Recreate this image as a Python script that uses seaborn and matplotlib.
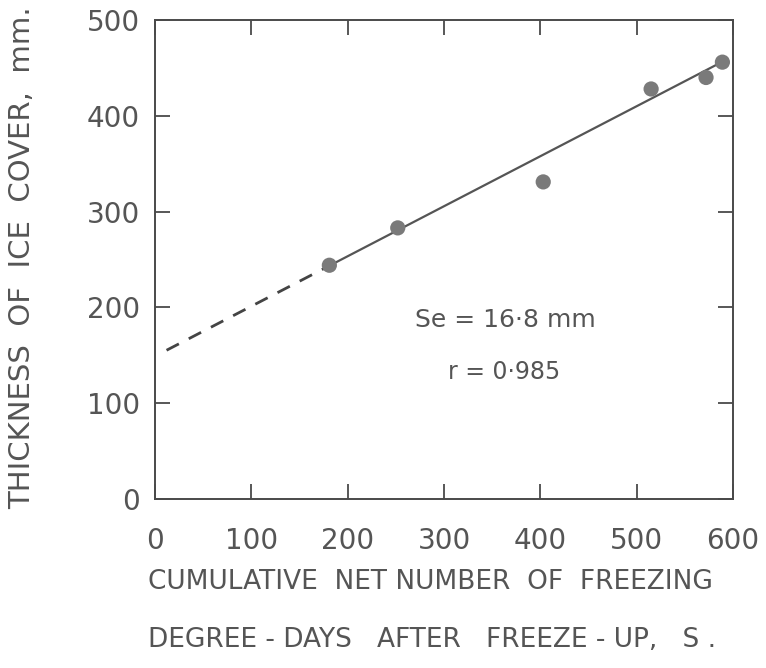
import numpy as np
import pandas as pd
import matplotlib
matplotlib.use("Agg")
import matplotlib.pyplot as plt
import seaborn as sns

degree_days = [181, 252, 403, 515, 572, 589]
thickness = [244, 283, 331, 428, 440, 456]

# regression line: fitted part and extrapolated part
fit_intercept = 149
fit_slope = 0.522
solid_x = [181, 585]
dashed_x = [12, 175]

x_ticks = [0, 100, 200, 300, 400, 500, 600]
y_ticks = [0, 100, 200, 300, 400, 500]

ink = "#4a4a4a"
txt = "#555555"

sns.set_style("ticks")
plt.rcParams["font.family"] = ["DejaVu Sans"]

fig = plt.figure(figsize=(7.66, 6.68), dpi=100)
ax = fig.add_axes([155 / 766, 169 / 668, 578 / 766, 479 / 668])

df = pd.DataFrame({"x": degree_days, "y": thickness})
sns.scatterplot(data=df, x="x", y="y", ax=ax, s=120, color="#7a7a7a",
                edgecolor="none", zorder=3)

solid = pd.DataFrame({"x": solid_x,
                      "y": [fit_intercept + fit_slope * v for v in solid_x]})
dashed = pd.DataFrame({"x": dashed_x,
                       "y": [fit_intercept + fit_slope * v for v in dashed_x]})
sns.lineplot(data=solid, x="x", y="y", ax=ax, color="#555555", lw=1.6)
sns.lineplot(data=dashed, x="x", y="y", ax=ax, color="#444444", lw=2.0,
             linestyle=(0, (5, 4)))

ax.set_xlim(0, 600)
ax.set_ylim(0, 500)
ax.set_xticks(x_ticks)
ax.set_yticks(y_ticks)
ax.tick_params(direction="in", length=11, width=1.3, colors=ink,
               top=True, right=True, labelsize=20, labelcolor=txt)
ax.tick_params(axis="x", pad=20)
ax.tick_params(axis="y", pad=11)
for sp in ax.spines.values():
    sp.set_visible(True)
    sp.set_linewidth(1.4)
    sp.set_color(ink)
ax.set_xlabel("")
ax.set_ylabel("")

ax.text(364, 187, "Se = 16·8 mm", ha="center", va="center",
        fontsize=18, color=txt)
ax.text(362, 133, "r = 0·985", ha="center", va="center",
        fontsize=17, color=txt)

fig.text(148 / 766, 1 - 582 / 668, "CUMULATIVE  NET NUMBER  OF  FREEZING",
         ha="left", va="center", fontsize=19, color=txt)
fig.text(148 / 766, 1 - 640 / 668, "DEGREE - DAYS   AFTER   FREEZE - UP,   S .",
         ha="left", va="center", fontsize=19, color=txt)
fig.text(22 / 766, 1 - 258 / 668, "THICKNESS  OF  ICE  COVER,  mm.",
         ha="center", va="center", rotation=90, fontsize=21, color=txt)

fig.savefig("out.png", dpi=100, facecolor="white")
